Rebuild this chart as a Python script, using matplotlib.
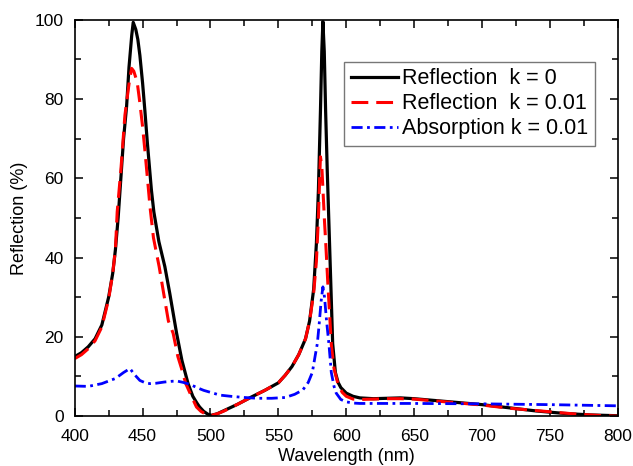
import matplotlib
matplotlib.use("Agg")
from matplotlib import pyplot as plt
from matplotlib.ticker import MultipleLocator

plt.rcParams['font.family'] = ['Liberation Sans', 'DejaVu Sans']

# Reflection, k = 0
wl_r0 = [400, 405, 410, 415, 420, 425, 428, 430, 432, 434, 436, 438.2, 440, 442, 443.1, 445,
         446.5, 448, 450, 451.7, 453.5, 455, 456.5, 458.3, 462, 466.4, 470, 475, 479, 483.5, 487,
         490, 492, 495, 498, 500.7, 505, 510, 520, 530, 540, 550, 555, 560, 565, 570, 573,
         576, 578, 579.5, 581, 582, 582.8, 583.8, 584.8, 586, 587.7, 590, 592, 594, 596, 600,
         605, 610, 620, 630, 640, 650, 660, 670, 680, 690, 700, 710, 720, 730, 740, 750, 760,
         770, 780, 790, 800]
r_k0 = [15, 16, 17.5, 19.5, 23, 30, 36, 42, 50, 60, 70, 78, 88, 96, 99.3, 97.5,
        95, 91, 84, 77, 69, 63, 57, 51.5, 44, 37.7, 31, 21, 14, 8.2, 5,
        3.3, 2.3, 1.2, 0.5, 0.2, 0.6, 1.4, 3, 4.8, 6.5, 8.4, 10.3, 12.5, 15.5, 19.5, 24,
        32, 43.5, 57, 77, 92, 99.5, 92, 77, 62, 43.5, 18.3, 11, 8.5, 7.2, 5.8,
        5, 4.6, 4.4, 4.5, 4.6, 4.4, 4.1, 3.8, 3.5, 3.2, 2.9, 2.5, 2.1, 1.7, 1.3, 1.0, 0.7,
        0.5, 0.3, 0.2, 0.1]

# Reflection, k = 0.01
wl_r1 = [400, 405, 410, 415, 420, 425, 428, 430, 431.3, 434, 437, 440.2, 441.9, 443.5, 446,
         448, 450, 451.7, 454.1, 455.4, 458, 462.2, 466, 469, 472.5, 476, 478.7, 481.8, 486,
         489.7, 493, 496, 498.5, 500.7, 505, 510, 520, 530, 540, 550, 555, 560, 565, 570, 573,
         576, 578, 579.5, 580.5, 581, 582, 583, 584, 585, 586.5, 587.7, 589, 591, 594, 597,
         600, 605, 610, 620, 630, 640, 650, 660, 670, 680, 690, 700, 710, 720, 730, 740, 750,
         760, 770, 780, 790, 800]
r_k1 = [14.5, 15.5, 17, 19, 22.5, 29.5, 36, 42, 51.5, 62, 75.9, 84.3, 87.7, 87, 84.3,
        79, 73, 67, 58, 53, 45, 37.7, 30, 24, 20.9, 15, 12, 8.2, 5,
        2.3, 1.2, 0.6, 0.3, 0.2, 0.6, 1.3, 3, 4.8, 6.5, 8.4, 10.3, 12.5, 15.5, 19.5, 24,
        31, 39, 50, 61, 65.4, 63, 56, 49, 43, 33, 26, 18, 12, 8, 6,
        5, 4.3, 4.2, 4.3, 4.4, 4.4, 4.3, 4.0, 3.7, 3.4, 3.1, 2.8, 2.4, 2.0, 1.7, 1.4, 1.1,
        0.8, 0.5, 0.3, 0.1, 0.0]

# Absorption, k = 0.01
wl_a1 = [400, 410, 420, 430, 436, 440.7, 444, 448, 452, 455.4, 460, 466, 472, 476, 480, 485,
         490, 495, 500, 507, 515, 525, 535, 545, 555, 562, 568, 572, 575, 577, 578.7, 580,
         581.5, 582.8, 584, 585.5, 587.2, 589, 591, 592.6, 596, 600, 605, 610, 650, 700, 750, 800]
a_k1 = [7.6, 7.5, 8.2, 9.5, 11, 12, 10.5, 9, 8.4, 8.2, 8.3, 8.6, 8.8, 8.8, 8.5, 8,
        7.2, 6.5, 6, 5.3, 5, 4.7, 4.5, 4.5, 4.7, 5.5, 6.6, 8.5, 11, 15, 18.3, 23,
        29, 32.6, 30, 24, 18.3, 11, 7.5, 5.8, 4.2, 3.6, 3.3, 3.2, 3.2, 3.1, 2.9, 2.6]

fig = plt.figure(figsize=(6.33, 4.66), dpi=100)
ax = fig.add_axes([0.118, 0.107, 0.858, 0.851])

ax.plot(wl_r0, r_k0, color='black', linewidth=2.3, label='Reflection  k = 0')
ax.plot(wl_r1, r_k1, color='red', linewidth=2.2, dashes=(5.5, 2.6), label='Reflection  k = 0.01')
ax.plot(wl_a1, a_k1, color='blue', linewidth=2.0, dashes=(4, 1.6, 1, 1.6), label='Absorption k = 0.01')

ax.set_xlim(400, 800)
ax.set_ylim(0, 100)
ax.xaxis.set_major_locator(MultipleLocator(50))
ax.xaxis.set_minor_locator(MultipleLocator(25))
ax.yaxis.set_major_locator(MultipleLocator(20))
ax.yaxis.set_minor_locator(MultipleLocator(10))
ax.tick_params(which='both', direction='in', top=True, right=True, width=1.1, labelsize=12.5)
ax.tick_params(which='major', length=6)
ax.tick_params(which='minor', length=4)
ax.tick_params(axis='x', pad=9)
ax.tick_params(axis='y', pad=8)
for s in ax.spines.values():
    s.set_linewidth(1.2)

ax.set_xlabel('Wavelength (nm)', fontsize=13, labelpad=3)
ax.set_ylabel('Reflection (%)', fontsize=13, labelpad=5)

leg = ax.legend(loc='upper right', bbox_to_anchor=(0.958, 0.893), borderaxespad=0,
                fontsize=15.5, frameon=True, fancybox=False, handlelength=2.2,
                handletextpad=0.2, borderpad=0.3, labelspacing=0.18)
leg.get_frame().set_edgecolor('#555555')
leg.get_frame().set_linewidth(1.0)

fig.savefig('out.png', dpi=100)
